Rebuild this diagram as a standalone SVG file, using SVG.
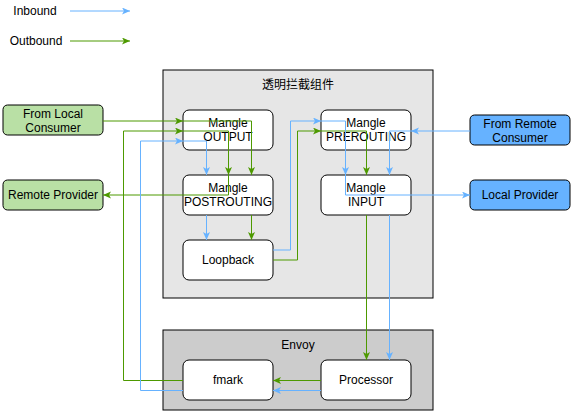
<svg xmlns="http://www.w3.org/2000/svg" width="571" height="411" viewBox="0 0 571 411">
<style>
text{font-family:"Liberation Sans",Helvetica,Arial,"Noto Sans CJK SC",sans-serif;font-size:12px;fill:#000;text-anchor:middle;dominant-baseline:central}
.node{fill:#fff;stroke:#000;stroke-width:1}
.green{fill:#B9E0A5;stroke:#000;stroke-width:1}
.blue{fill:#66B2FF;stroke:#000;stroke-width:1}
.in{fill:none;stroke:#66B2FF;stroke-width:1}
.out{fill:none;stroke:#4D9900;stroke-width:1}
</style>
<defs>
<marker id="ab" markerUnits="userSpaceOnUse" markerWidth="10" markerHeight="8" refX="8" refY="3.5" orient="auto"><path d="M0,0 L8,3.5 L0,7 L2,3.5 Z" fill="#66B2FF"/></marker>
<marker id="ag" markerUnits="userSpaceOnUse" markerWidth="10" markerHeight="8" refX="8" refY="3.5" orient="auto"><path d="M0,0 L8,3.5 L0,7 L2,3.5 Z" fill="#4D9900"/></marker>
</defs>
<rect width="571" height="411" fill="#fff"/>
<g id="legend">
<text x="35" y="11">Inbound</text>
<text x="36" y="41">Outbound</text>
<path class="in" d="M70,11 L130,11" marker-end="url(#ab)"/>
<path class="out" d="M70,41 L130,41" marker-end="url(#ag)"/>
</g>
<g id="interception">
<rect x="163" y="70" width="270" height="228" fill="#E6E6E6" stroke="#000"/>
<text x="298" y="85">透明拦截组件</text>
</g>
<g id="envoy">
<rect x="163" y="330" width="270" height="80" fill="#CCCCCC" stroke="#000"/>
<text x="298" y="345">Envoy</text>
</g>
<g id="from-local-consumer"><rect class="green" x="3" y="105" width="100" height="30" rx="4.5"/><text x="53" y="113.5">From Local</text><text x="53" y="127.5">Consumer</text></g>
<g id="remote-provider"><rect class="green" x="3" y="180" width="100" height="30" rx="4.5"/><text x="53" y="195">Remote Provider</text></g>
<g id="from-remote-consumer"><rect class="blue" x="470" y="115" width="100" height="30" rx="4.5"/><text x="520" y="123.5">From Remote</text><text x="520" y="137.5">Consumer</text></g>
<g id="local-provider"><rect class="blue" x="470" y="180" width="100" height="30" rx="4.5"/><text x="520" y="195">Local Provider</text></g>
<g id="mangle-output"><rect class="node" x="183" y="110" width="90" height="40" rx="6"/><text x="228" y="123">Mangle</text><text x="228" y="137">OUTPUT</text></g>
<g id="mangle-postrouting"><rect class="node" x="183" y="175" width="90" height="40" rx="6"/><text x="228" y="188">Mangle</text><text x="228" y="202">POSTROUTING</text></g>
<g id="loopback"><rect class="node" x="183" y="240" width="90" height="40" rx="6"/><text x="228" y="260">Loopback</text></g>
<g id="mangle-prerouting"><rect class="node" x="321" y="110" width="90" height="40" rx="6"/><text x="366" y="123">Mangle</text><text x="366" y="137">PREROUTING</text></g>
<g id="mangle-input"><rect class="node" x="321" y="175" width="90" height="40" rx="6"/><text x="366" y="188">Mangle</text><text x="366" y="202">INPUT</text></g>
<g id="fmark"><rect class="node" x="183" y="360" width="90" height="40" rx="6"/><text x="228" y="380">fmark</text></g>
<g id="processor"><rect class="node" x="321" y="360" width="90" height="40" rx="6"/><text x="366" y="380">Processor</text></g>
<g id="connectors">
<!-- outbound -->
<path class="out" d="M103,121 L183,121" marker-end="url(#ag)"/>
<path class="out" d="M183,121 L251.5,121 L251.5,175" marker-end="url(#ag)"/>
<path class="out" d="M251.5,215 L251.5,240" marker-end="url(#ag)"/>
<path class="out" d="M273,260 L297.5,260 L297.5,131 L321,131" marker-end="url(#ag)"/>
<path class="out" d="M321,131 L366.5,131 L366.5,175" marker-end="url(#ag)"/>
<path class="out" d="M366.5,215 L366.5,360" marker-end="url(#ag)"/>
<path class="out" d="M321,380.5 L273,380.5" marker-end="url(#ag)"/>
<path class="out" d="M183,380.5 L123.5,380.5 L123.5,131 L183,131" marker-end="url(#ag)"/>
<path class="out" d="M183,131 L228.5,131 L228.5,175" marker-end="url(#ag)"/>
<path class="out" d="M228.5,175 L228.5,195 L103,195" marker-end="url(#ag)"/>
<!-- inbound -->
<path class="in" d="M470,131 L411,131" marker-end="url(#ab)"/>
<path class="in" d="M411,131 L389.5,131 L389.5,175" marker-end="url(#ab)"/>
<path class="in" d="M389.5,215 L389.5,360" marker-end="url(#ab)"/>
<path class="in" d="M321,390.5 L273,390.5" marker-end="url(#ab)"/>
<path class="in" d="M183,390.5 L140.5,390.5 L140.5,141 L183,141" marker-end="url(#ab)"/>
<path class="in" d="M183,141 L206.5,141 L206.5,175" marker-end="url(#ab)"/>
<path class="in" d="M206.5,215 L206.5,240" marker-end="url(#ab)"/>
<path class="in" d="M273,250 L290.5,250 L290.5,121 L321,121" marker-end="url(#ab)"/>
<path class="in" d="M321,121 L345.5,121 L345.5,175" marker-end="url(#ab)"/>
<path class="in" d="M345.5,175 L345.5,195 L470,195" marker-end="url(#ab)"/>
</g>
</svg>
